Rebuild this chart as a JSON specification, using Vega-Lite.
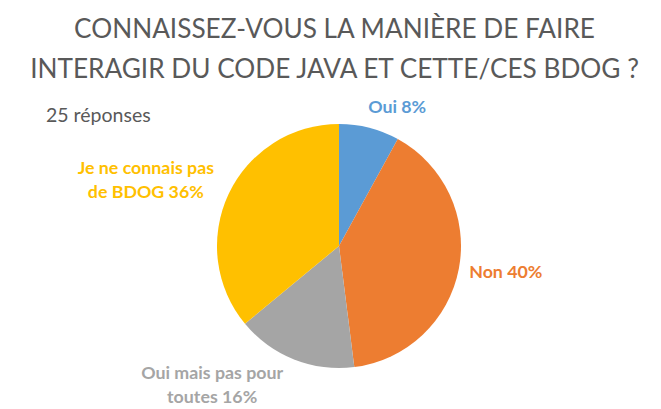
{
  "$schema": "https://vega.github.io/schema/vega-lite/v6.json",
  "background": "white",
  "padding": {"top": 16, "left": 28, "right": 5, "bottom": 0},
  "title": {
    "text": ["CONNAISSEZ-VOUS LA MANIÈRE DE FAIRE", "INTERAGIR DU CODE JAVA ET CETTE/CES BDOG ?"],
    "font": "Lato", "fontSize": 26.2, "fontWeight": "normal", "color": "#595959",
    "lineHeight": 40, "anchor": "middle", "offset": -1, "dx": -3
  },
  "data": {"values": [
    {"idx": 1, "cat": "Oui", "value": 8, "label": "Oui 8%"},
    {"idx": 2, "cat": "Non", "value": 40, "label": "Non 40%"},
    {"idx": 3, "cat": "Oui mais pas pour toutes", "value": 16, "label": "Oui mais pas pour\ntoutes 16%"},
    {"idx": 4, "cat": "Je ne connais pas de BDOG", "value": 36, "label": "Je ne connais pas\nde BDOG 36%"}
  ]},
  "vconcat": [{
    "width": 580,
    "height": 328,
    "title": {"text": "25 réponses", "anchor": "start", "font": "Lato", "fontSize": 19.5, "fontWeight": "normal", "color": "#595959", "offset": -44, "dx": -3},
    "encoding": {
      "theta": {"field": "value", "type": "quantitative", "stack": true},
      "order": {"field": "idx", "type": "quantitative"}
    },
    "layer": [
      {
        "mark": {"type": "arc", "outerRadius": 122},
        "encoding": {
          "color": {"field": "cat", "type": "nominal", "legend": null,
            "scale": {"domain": ["Oui", "Non", "Oui mais pas pour toutes", "Je ne connais pas de BDOG"],
                      "range": ["#5B9BD5", "#ED7D31", "#A5A5A5", "#FFC000"]}}
        }
      },
      {
        "mark": {"type": "text", "clip": true, "radius": 150, "thetaOffset": 0.147, "font": "Lato", "fontSize": 17.8, "fontWeight": "bold", "color": "#5B9BD5", "lineBreak": "\n", "lineHeight": 24},
        "encoding": {"text": {"condition": {"test": "datum.cat === 'Oui'", "field": "label", "type": "nominal"}, "value": ""}}
      },
      {
        "mark": {"type": "text", "clip": true, "radius": 169, "thetaOffset": -0.028, "font": "Lato", "fontSize": 17.8, "fontWeight": "bold", "color": "#ED7D31", "lineBreak": "\n", "lineHeight": 24},
        "encoding": {"text": {"condition": {"test": "datum.cat === 'Non'", "field": "label", "type": "nominal"}, "value": ""}}
      },
      {
        "mark": {"type": "text", "clip": true, "radius": 180, "thetaOffset": 0.405, "font": "Lato", "fontSize": 17.8, "fontWeight": "bold", "color": "#A5A5A5", "lineBreak": "\n", "lineHeight": 24},
        "encoding": {"text": {"condition": {"test": "datum.cat === 'Oui mais pas pour toutes'", "field": "label", "type": "nominal"}, "value": ""}}
      },
      {
        "mark": {"type": "text", "clip": true, "radius": 208, "thetaOffset": -0.06, "font": "Lato", "fontSize": 17.8, "fontWeight": "bold", "color": "#FFC000", "lineBreak": "\n", "lineHeight": 24},
        "encoding": {"text": {"condition": {"test": "datum.cat === 'Je ne connais pas de BDOG'", "field": "label", "type": "nominal"}, "value": ""}}
      }
    ]
  }],
  "config": {"view": {"stroke": null}}
}
